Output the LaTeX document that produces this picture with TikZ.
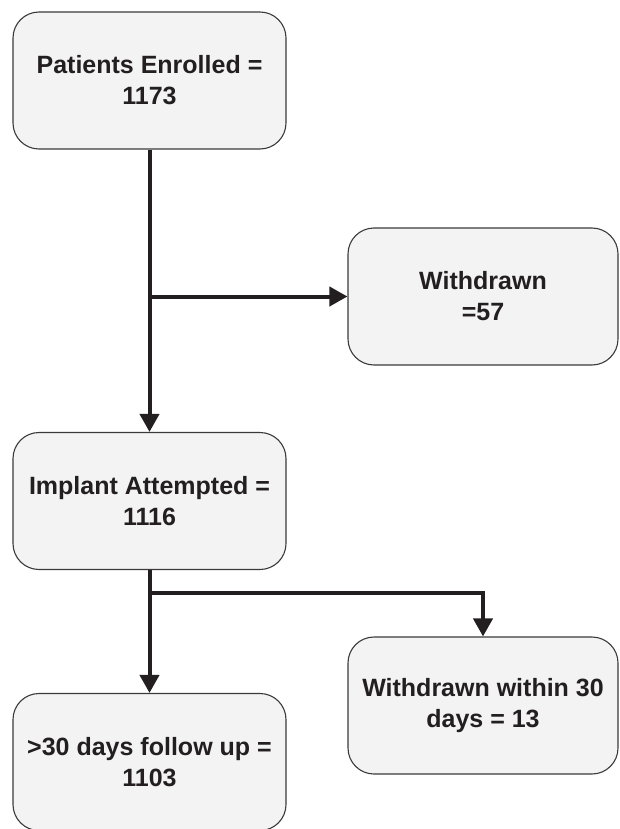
\documentclass[tikz,border=0pt]{standalone}
\usepackage{fontspec}
\setmainfont{Liberation Sans}
\usetikzlibrary{arrows.meta,calc}
\definecolor{ink}{HTML}{231F20}
\definecolor{boxfill}{HTML}{F3F3F3}
\definecolor{boxline}{HTML}{3A3A3A}
\begin{document}
\begin{tikzpicture}[x=1pt,y=-1pt,
  flowbox/.style={draw=boxline,line width=1.1pt,fill=boxfill,rounded corners=26pt,
    minimum width=273pt,minimum height=137pt,align=center,text=ink,inner sep=0pt,
    font=\fontsize{25}{31}\selectfont\bfseries},
  conn/.style={draw=ink,line width=4pt,-{Triangle[width=19pt,length=18pt]}}]
\useasboundingbox (0,0) rectangle (619,829);
\node[flowbox] (b1) at (149.5,80.5) {Patients Enrolled =\\1173};
\node[flowbox,minimum width=270pt] (b2) at (483,296.5) {Withdrawn\\=57};
\node[flowbox] (b3) at (149.5,501) {Implant Attempted =\\1116};
\node[flowbox] (b4) at (149.5,762) {>30 days follow up =\\1103};
\node[flowbox,minimum width=270pt] (b5) at (483,705.5) {Withdrawn within 30\\days = 13};
\coordinate (j1) at (b1.south |- b2.west);
\coordinate (j2) at ($(b3.south)+(0,23)$);
\draw[conn] (b1.south) -- (b3.north);
\draw[conn] (j1) -- (b2.west);
\draw[conn] (b3.south) -- (b4.north);
\draw[conn] (j2) -| (b5.north);
\end{tikzpicture}
\end{document}
